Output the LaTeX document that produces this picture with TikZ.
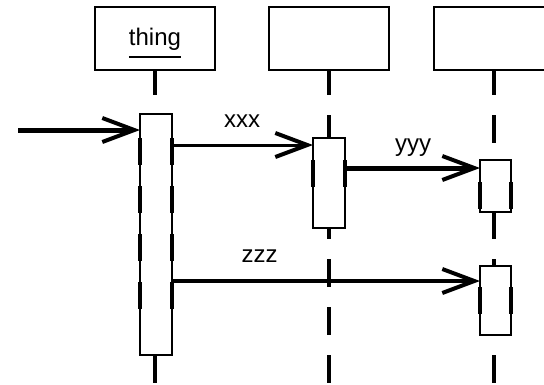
\documentclass[tikz,border=0pt]{standalone}
\usepackage{fontspec}
\setmainfont{Liberation Sans}
\usetikzlibrary{arrows.meta}
\tikzset{
  objbox/.style={draw, line width=2bp, minimum width=120bp, minimum height=63bp, inner sep=0pt, outer sep=0pt},
  actbox/.style={draw, fill=white, line width=2bp, minimum width=31bp, inner sep=0pt, outer sep=0pt},
  lifeline/.style={line width=4bp, dash pattern=on 28bp off 20bp, dash phase=3bp},
  edgedash/.style={line width=4bp, dash pattern=on 27bp off 21bp},
  barb/.style={-{Straight Barb[length=32bp,width=24bp,line width=4bp]}},
  lbl/.style={font=\fontsize{24bp}{28bp}\selectfont, inner sep=0pt, anchor=base}
}
\begin{document}
\begin{tikzpicture}[x=1bp, y=-1bp]
  \useasboundingbox (0,0) rectangle (544,384);
  % object boxes
  \node[objbox] (o1) at (155,38.5) {};
  \node[objbox] (o2) at (329,38.5) {};
  \node[objbox] (o3) at (494,38.5) {};
  \node[lbl] (thing) at (155,45) {thing};
  \draw[line width=1.5bp] (thing.base west) ++(0,12) coordinate (ul1) -- (thing.base east |- ul1);
  % lifeline ends
  \coordinate (e1) at (155,384);
  \coordinate (e2) at (329,384);
  \coordinate (e3) at (494,384);
  \draw[lifeline] (o1.south) -- (e1);
  \draw[lifeline] (o2.south) -- (e2);
  \draw[lifeline] (o3.south) -- (e3);
  % activation boxes
  \node[actbox, minimum width=32bp, minimum height=241bp] (a1) at (156,234.5) {};
  \node[actbox, minimum width=32bp, minimum height=90bp] (a2) at (329,183) {};
  \node[actbox, minimum height=52bp] (a3) at (495.5,186) {};
  \node[actbox, minimum height=69bp] (a4) at (495.5,300.5) {};
  % edge dashes on activation boxes
  \foreach \x/\ya/\yb in {140/138/312, 172/138/312, 313/160/188, 345/160/188,
                          480/182/212, 511/182/212, 480/287/317, 511/287/317}
    \draw[edgedash] (\x,\ya) -- (\x,\yb);
  % messages
  \coordinate (in) at (18,130);
  \coordinate (yx) at (0,145);
  \coordinate (yy) at (0,168);
  \coordinate (yz) at (0,281);
  \draw[barb, line width=5bp] (in) -- (in -| a1.west);
  \draw[barb, line width=3bp] (a1.east |- yx) -- (a2.west |- yx);
  \draw[barb, line width=5bp] (a2.east |- yy) -- (a3.west |- yy);
  \draw[barb, line width=3.5bp] (a1.east |- yz) -- (a4.west |- yz);
  % labels
  \node[lbl] (lx) at (242,127) {xxx};
  \node[lbl] (ly) at (413,151) {yyy};
  \node[lbl] (lz) at (259.5,262) {zzz};
\end{tikzpicture}
\end{document}
